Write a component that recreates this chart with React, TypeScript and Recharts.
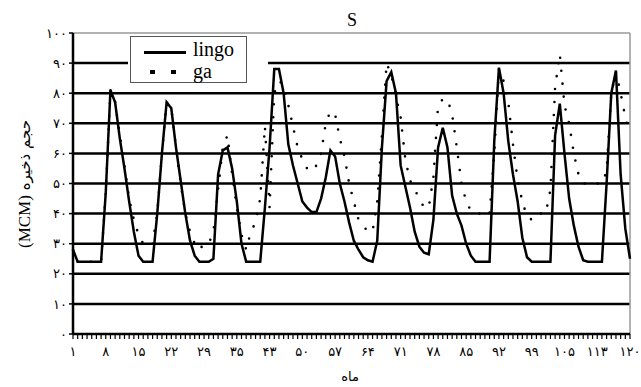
import { ComposedChart, Line, XAxis, YAxis, ReferenceLine } from "recharts";

// months 1..120
const months = Array.from({ length: 120 }, (_, i) => i + 1);

const lingo = [
  28, 24, 24, 24, 24, 24, 24, 47, 81, 77,
  65, 55, 44, 34, 26, 24, 24, 24, 40, 60,
  77, 75, 62, 51, 40, 31, 26, 24, 24, 24,
  25, 53, 61, 62, 55, 44, 30, 24, 24, 24,
  24, 42, 62, 88, 88, 80, 63, 56, 50, 44,
  42, 40.5, 40.5, 45, 52, 61, 59, 50, 44, 37,
  31, 28, 25.5, 24.5, 24, 31, 62, 84, 87, 80,
  56, 49, 42, 34, 29, 27, 26.5, 38, 62, 68.5,
  62, 46, 40, 36, 30, 26, 24, 24, 24, 24,
  64, 88.5, 80, 64, 53, 44, 32, 25.5, 24, 24,
  24, 24, 24, 66, 76.5, 60, 45, 36, 29, 24.5,
  24, 24, 24, 24, 50, 80, 87.5, 53, 35, 25,
];

const ga = [
  28, 24, 24, 24, 24, 24, 24, 47, 81, 77,
  66, 56, 45, 38, 33, 30, 29, 30, 40, 60,
  77, 75, 62, 50, 40, 34, 30, 28, 30, 30,
  34, 48, 62, 66, 53, 42, 33, 28, 34, 37,
  45, 69, 42, 80, 84, 83, 76, 69, 62, 58,
  55, 54, 56, 60, 70, 74, 73, 65, 59, 50,
  44, 38, 36, 34, 34, 44, 66, 90, 86, 79,
  72, 58, 51, 48, 45, 42, 42, 52, 76, 78,
  78, 73, 62, 50, 44, 41, 40, 40, 39, 40,
  60, 88, 84, 77, 63, 51, 44, 39, 38, 40,
  40, 40, 48, 82, 93, 76, 70, 60, 53, 50,
  50, 50, 50, 50, 54, 80, 87, 80, 72, 66,
];

const xTickMonths = [1, 8, 15, 22, 29, 36, 43, 50, 57, 64, 71, 78, 85, 92, 99, 106, 113, 120];
const xTickLabels = ["۱", "۸", "۱۵", "۲۲", "۲۹", "۳۵", "۴۳", "۵۰", "۵۷", "۶۴", "۷۱", "۷۸", "۸۵", "۹۲", "۹۹", "۱۰۵", "۱۱۳", "۱۲۰"];
const yTicks = [0, 10, 20, 30, 40, 50, 60, 70, 80, 90, 100];
const yTickLabels = ["۰", "۱۰", "۲۰", "۳۰", "۴۰", "۵۰", "۶۰", "۷۰", "۸۰", "۹۰", "۱۰۰"];

const title = "S";
const xTitle = "ماه";
const yTitle = "حجم ذخیره";
const yUnit = "(MCM)";

if (typeof document !== "undefined") document.body.style.margin = "0";

const data = months.map((m, i) => ({ month: m, lingo: lingo[i], ga: ga[i] }));

const persian = "'DejaVu Sans', sans-serif";
const serif = "'Liberation Serif', 'Times New Roman', serif";

function MonthTick(props: any) {
  const { x, y, payload } = props;
  const idx = xTickMonths.indexOf(payload.value);
  if (idx < 0) return <g />;
  return (
    <text x={x} y={y + 6} dy="0.71em" textAnchor="middle" fontSize={13} fontFamily={persian} fill="#000">
      {xTickLabels[idx]}
    </text>
  );
}

export default function App() {
  return (
    <div style={{ position: "relative", width: 641, height: 387, background: "#fff" }}>
      <ComposedChart width={641} height={387} data={data} margin={{ top: 33, right: 11, bottom: 0, left: 0 }}>
        {yTicks.slice(1, 10).map((v) => (
          <ReferenceLine key={v} y={v} stroke="#000" strokeWidth={2.5} />
        ))}
        <ReferenceLine y={100} stroke="#999" strokeWidth={1.5} />
        <ReferenceLine x={120} stroke="#999" strokeWidth={1.5} />
        <XAxis
          dataKey="month"
          type="number"
          domain={[1, 120]}
          ticks={months}
          interval={0}
          height={53}
          tickSize={5}
          axisLine={{ stroke: "#000", strokeWidth: 2.5 }}
          tickLine={{ stroke: "#000", strokeWidth: 1.2 }}
          tick={<MonthTick />}
        />
        <YAxis
          type="number"
          domain={[0, 100]}
          ticks={yTicks}
          interval={0}
          width={73}
          tickSize={4}
          tickMargin={2}
          axisLine={{ stroke: "#000", strokeWidth: 2.5 }}
          tickLine={{ stroke: "#000", strokeWidth: 1.5 }}
          tickFormatter={(v: number) => yTickLabels[yTicks.indexOf(v)]}
          tick={{ fill: "#000", fontSize: 13, fontFamily: persian }}
        />
        <Line
          dataKey="ga"
          type="linear"
          stroke="#000"
          strokeWidth={2.6}
          strokeLinecap="round"
          strokeDasharray="0 13"
          dot={false}
          activeDot={false}
          isAnimationActive={false}
        />
        <Line
          dataKey="lingo"
          type="linear"
          stroke="#000"
          strokeWidth={2.5}
          dot={false}
          activeDot={false}
          isAnimationActive={false}
        />
      </ComposedChart>

      {/* legend */}
      <div style={{ position: "absolute", left: 128, top: 35, width: 140, height: 49, background: "#fff" }}>
        <div style={{ position: "absolute", left: 2, top: 1, width: 115, height: 45, border: "1px solid #555", fontFamily: serif, fontSize: 20, color: "#000" }}>
          <div style={{ position: "absolute", left: 13, top: 14, width: 42, height: 3, background: "#000" }} />
          <div style={{ position: "absolute", left: 62, top: 4, lineHeight: "17px" }}>lingo</div>
          <div style={{ position: "absolute", left: 19, top: 33, width: 5, height: 4, background: "#000" }} />
          <div style={{ position: "absolute", left: 40, top: 33, width: 5, height: 4, background: "#000" }} />
          <div style={{ position: "absolute", left: 62, top: 26, lineHeight: "17px" }}>ga</div>
        </div>
      </div>

      <div style={{ position: "absolute", left: 352, top: 10, transform: "translateX(-50%)", fontFamily: serif, fontSize: 18 }}>{title}</div>
      <div style={{ position: "absolute", left: 350, top: 369, lineHeight: "15px", transform: "translateX(-50%)", fontFamily: persian, fontSize: 13 }}>{xTitle}</div>
      <div
        dir="rtl"
        style={{
          position: "absolute",
          left: 25,
          top: 184,
          transform: "translate(-50%, -50%) rotate(-90deg)",
          whiteSpace: "nowrap",
          fontFamily: persian,
          fontSize: 15,
        }}
      >
        {yTitle} <span style={{ fontFamily: serif, fontSize: 17 }}>{yUnit}</span>
      </div>
    </div>
  );
}
